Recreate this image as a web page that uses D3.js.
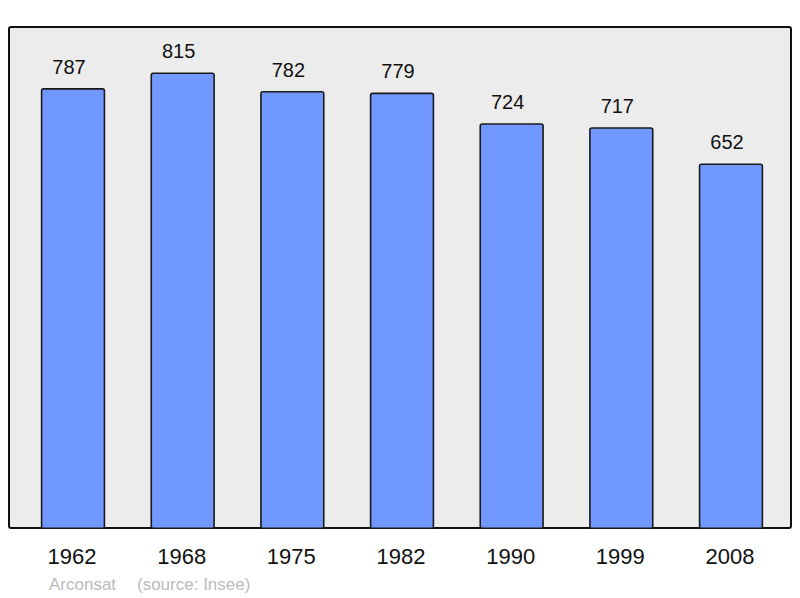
<!DOCTYPE html>
<html>
<head>
<meta charset="utf-8">
<script src="https://cdn.jsdelivr.net/npm/d3@7"></script>
<style>
  body { margin: 0; background: #fff; }
  svg { display: block; font-family: "Liberation Sans", Arial, sans-serif; }
</style>
</head>
<body>
<div id="chart"></div>
<script>
const years = ["1962", "1968", "1975", "1982", "1990", "1999", "2008"];
const population = [787, 815, 782, 779, 724, 717, 652];

function drawChart() {
  const width = 800;
  const height = 598;
  const frame = { left: 9, top: 27, right: 791, bottom: 528 };

  const svg = d3
    .select("#chart")
    .append("svg")
    .attr("width", width)
    .attr("height", height);

  svg
    .append("rect")
    .attr("x", frame.left)
    .attr("y", frame.top)
    .attr("width", frame.right - frame.left)
    .attr("height", frame.bottom - frame.top)
    .attr("rx", 2)
    .attr("fill", "#ececec")
    .attr("stroke", "#111")
    .attr("stroke-width", 2);

  const x = d3
    .scaleBand(years, [12, 792])
    .paddingInner(0.427)
    .paddingOuter(0.27);

  // 0 sits on the frame bottom
  const y = d3.scaleLinear([0, 900], [528.3, 25.8]);

  const data = years.map((yr, i) => ({ year: yr, value: population[i] }));

  svg
    .selectAll(".bar")
    .data(data)
    .enter()
    .append("rect")
    .attr("class", "bar")
    .attr("x", (d) => x(d.year))
    .attr("y", (d) => y(d.value))
    .attr("width", x.bandwidth())
    .attr("height", (d) => y(0) - y(d.value))
    .attr("rx", 2)
    .attr("fill", "#7098ff")
    .attr("stroke", "#1a1a1a")
    .attr("stroke-width", 1.6);

  // value labels sit a little left of the bar centre in the original
  svg
    .selectAll(".val")
    .data(data)
    .enter()
    .append("text")
    .attr("class", "val")
    .attr("x", (d) => x(d.year) + x.bandwidth() / 2 - 4)
    .attr("y", (d) => y(d.value) - 15)
    .attr("text-anchor", "middle")
    .attr("font-size", 20)
    .attr("fill", "#111")
    .text((d) => d.value);

  // year labels under the frame
  const axis = d3.axisBottom(x).tickSize(0).tickPadding(0);
  const g = svg
    .append("g")
    .attr("transform", `translate(0,${frame.bottom})`)
    .call(axis);
  g.select(".domain").remove();
  g.selectAll("text")
    .attr("dy", null)
    .attr("x", -1)
    .attr("y", 36)
    .attr("font-size", 22)
    .attr("font-family", "Liberation Sans, Arial, sans-serif")
    .attr("fill", "#111");

  svg
    .append("text")
    .attr("x", 49)
    .attr("y", 590)
    .attr("font-size", 17)
    .attr("fill", "#bbbbbb")
    .text("Arconsat");

  svg
    .append("text")
    .attr("x", 137)
    .attr("y", 590)
    .attr("font-size", 17)
    .attr("fill", "#bbbbbb")
    .text("(source: Insee)");
}

drawChart();
</script>
</body>
</html>
